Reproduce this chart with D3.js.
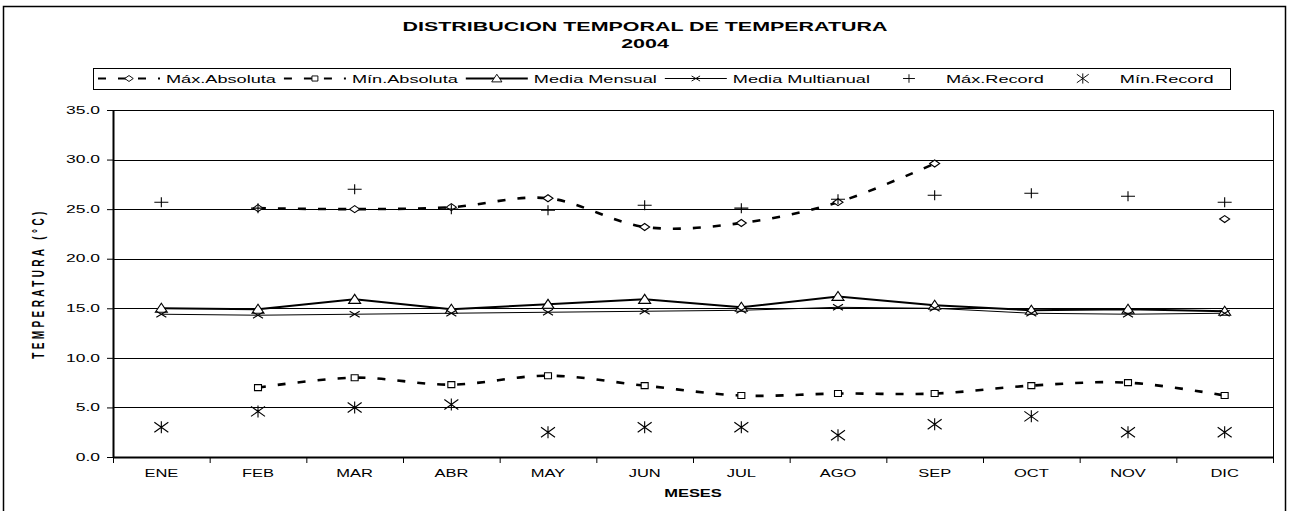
<!DOCTYPE html>
<html>
<head>
<meta charset="utf-8">
<title>Distribucion temporal de temperatura 2004</title>
<script src="https://cdn.jsdelivr.net/npm/d3@7"></script>
<style>
  body { margin: 0; background: #fff; }
  svg { display: block; font-family: Arial, "Liberation Sans", sans-serif; }
</style>
</head>
<body>
<svg id="chart" width="1290" height="511"></svg>
<script>
/********************************************************
 ********************* Data *****************************
 ********************************************************/
var months = ["ENE", "FEB", "MAR", "ABR", "MAY", "JUN", "JUL", "AGO", "SEP", "OCT", "NOV", "DIC"];

var max_absoluta     = [null, 25.1, 25.0, 25.2, 26.1, 23.2, 23.6, 25.7, 29.6, null, null, 24.0];
var min_absoluta     = [null, 7.0, 8.0, 7.3, 8.2, 7.2, 6.2, 6.4, 6.4, 7.2, 7.5, 6.2];
var media_mensual    = [15.0, 14.9, 15.9, 14.9, 15.4, 15.9, 15.1, 16.2, 15.3, 14.8, 14.9, 14.7];
var media_multianual = [14.4, 14.3, 14.4, 14.5, 14.6, 14.7, 14.8, 15.1, 15.0, 14.5, 14.4, 14.5];
var max_record       = [25.7, 25.1, 27.0, 25.0, 24.9, 25.4, 25.1, 26.0, 26.4, 26.6, 26.3, 25.7];
var min_record       = [3.0, 4.6, 5.0, 5.3, 2.5, 3.0, 3.0, 2.2, 3.3, 4.1, 2.5, 2.5];

var y_ticks = [0, 5, 10, 15, 20, 25, 30, 35];

var title_lines = ["DISTRIBUCION TEMPORAL DE TEMPERATURA", "2004"];
var x_title = "MESES";
var y_title = "TEMPERATURA (°C)";

// series table built from the arrays above
var series = [
  {name: "Máx.Absoluta",     values: max_absoluta,     line: "dash",  marker: "diamond"},
  {name: "Mín.Absoluta",     values: min_absoluta,     line: "dash",  marker: "square"},
  {name: "Media Mensual",    values: media_mensual,    line: "thick", marker: "triangle"},
  {name: "Media Multianual", values: media_multianual, line: "thin",  marker: "cross"},
  {name: "Máx.Record",       values: max_record,       line: null,    marker: "plus"},
  {name: "Mín.Record",       values: min_record,       line: null,    marker: "star"}
];

/********************************************************
 ********************* Helpers **************************
 ********************************************************/
var STRETCH = 1.65; // the original text is drawn wide

var marker_paths = {
  diamond:  "M-5,0L0,-3.5L5,0L0,3.5Z",
  square:   "M-3.5,-3L3.5,-3L3.5,3L-3.5,3Z",
  triangle: "M-6,4L0,-5L6,4Z",
  cross:    "M-5,-3L5,3M-5,3L5,-3",
  plus:     "M-7,0L7,0M0,-5L0,5",
  star:     "M-7,-5L7,5M-7,5L7,-5M0,-6L0,6"
};

function line_style(sel, kind){
  sel.attr("fill", "none").attr("stroke", "#000");
  if (kind == "dash") {
    sel.attr("stroke-width", 2.6).attr("stroke-dasharray", "8,12");
  } else if (kind == "thick") {
    sel.attr("stroke-width", 2);
  } else {
    sel.attr("stroke-width", 1);
  }
}

function draw_marker(parent, kind, x, y, k){
  var open = (kind == "diamond" || kind == "square" || kind == "triangle");
  parent.append("path")
    .attr("d", marker_paths[kind])
    .attr("transform", "translate(" + x + "," + y + ") scale(" + (k || 1) + ")")
    .attr("fill", open ? "#fff" : "none")
    .attr("stroke", "#000")
    .attr("stroke-width", 1.1);
}

function add_text(parent, x, y, txt, size, weight, anchor, sx){
  return parent.append("text")
    .attr("transform", "translate(" + x + "," + y + ") scale(" + sx + ",1)")
    .attr("text-anchor", anchor)
    .style("font-size", size + "px")
    .style("font-weight", weight)
    .attr("fill", "#000")
    .text(txt);
}

/********************************************************
 ********************* Chart ****************************
 ********************************************************/
var svg = d3.select("#chart");
var plot = {left: 113, right: 1273, top: 110, bottom: 457};

svg.append("rect").attr("width", 1290).attr("height", 511).attr("fill", "#fff");

// outer frame
svg.append("rect")
  .attr("x", 3.5).attr("y", 6.5)
  .attr("width", 1282).attr("height", 520)
  .attr("fill", "none").attr("stroke", "#000").attr("stroke-width", 1.5);

// title
title_lines.forEach(function(t, i){
  add_text(svg, 645, 31 + i * 17, t, 13, "bold", "middle", STRETCH);
});

var x = d3.scaleBand().domain(months).range([plot.left, plot.right]);
var x_ticks = d3.scaleLinear().domain([0, months.length]).range([plot.left, plot.right]);
var y = d3.scaleLinear().domain([0, 35]).range([plot.bottom, plot.top]);

function cx(i){ return x(months[i]) + x.bandwidth() / 2; }

// gridlines
svg.append("g")
  .selectAll("line")
  .data(y_ticks.slice(1))
  .enter().append("line")
    .attr("x1", plot.left).attr("x2", plot.right)
    .attr("y1", function(d){ return Math.round(y(d)) + 0.5; })
    .attr("y2", function(d){ return Math.round(y(d)) + 0.5; })
    .attr("stroke", "#000").attr("stroke-width", 1);

// right border
svg.append("line")
  .attr("x1", plot.right + 0.5).attr("x2", plot.right + 0.5)
  .attr("y1", y(35)).attr("y2", plot.bottom)
  .attr("stroke", "#000");

// y axis
var y_axis = svg.append("g")
  .attr("transform", "translate(" + plot.left + ",0)")
  .call(d3.axisLeft(y).tickValues(y_ticks).tickFormat(d3.format(".1f")).tickSize(6).tickSizeOuter(0));
y_axis.select(".domain").attr("stroke-width", 2);
y_axis.selectAll("text")
  .attr("x", -13 / 1.75)
  .attr("transform", "scale(1.75,1)")
  .style("font-size", "10px")
  .style("font-family", "Arial, 'Liberation Sans', sans-serif");

// x axis tick marks between categories
var x_axis_ticks = svg.append("g")
  .attr("transform", "translate(0," + plot.bottom + ")")
  .call(d3.axisBottom(x_ticks).ticks(months.length).tickFormat("").tickSize(6).tickSizeOuter(0));
x_axis_ticks.select(".domain").attr("stroke-width", 2);

// x axis labels
var x_axis = svg.append("g")
  .attr("transform", "translate(0," + plot.bottom + ")")
  .call(d3.axisBottom(x).tickSize(0));
x_axis.select(".domain").remove();
x_axis.selectAll("text")
  .attr("y", 13)
  .attr("transform", "scale(" + STRETCH + ",1)")
  .style("font-size", "10px")
  .style("font-family", "Arial, 'Liberation Sans', sans-serif");

// axis titles
add_text(svg, (plot.left + plot.right) / 2, 497, x_title, 10, "bold", "middle", STRETCH);

svg.append("text")
  .attr("transform", "translate(38," + (plot.top + plot.bottom) / 2 + ") rotate(-90) scale(1,1.6)")
  .attr("text-anchor", "middle")
  .attr("dy", "0.35em")
  .style("font-size", "10px")
  .style("font-weight", "bold")
  .style("letter-spacing", "3.4px")
  .text(y_title);

/********************************************************
 ********************* Series ***************************
 ********************************************************/
var marks = svg.append("g");

series.forEach(function(s){
  if (s.line) {
    var line = d3.line()
      .defined(function(d){ return d != null; })
      .x(function(d, i){ return cx(i); })
      .y(function(d){ return y(d); })
      .curve(s.line == "dash" ? d3.curveCardinal.tension(0) : d3.curveLinear);
    marks.append("path")
      .datum(s.values)
      .attr("d", line)
      .call(line_style, s.line);
  }
});

series.forEach(function(s){
  s.values.forEach(function(v, i){
    if (v != null) draw_marker(marks, s.marker, cx(i), y(v));
  });
});

/********************************************************
 ********************* Legend ***************************
 ********************************************************/
var legend = svg.append("g");
var legend_left = 93, legend_top = 68, legend_h = 21;
var ly = legend_top + legend_h / 2;
var legend_box = legend.append("rect");

var cursor = legend_left + 5;
series.forEach(function(s){
  var mx = cursor + 31;
  if (s.line) {
    legend.append("line")
      .attr("x1", cursor).attr("x2", cursor + 62)
      .attr("y1", ly).attr("y2", ly)
      .call(line_style, s.line)
      .attr("stroke-width", s.line == "thin" ? 1 : 2);
  }
  draw_marker(legend, s.marker, mx, ly, 0.85);
  var t = add_text(legend, cursor + 68, ly + 4, s.name, 11, "normal", "start", STRETCH);
  cursor = cursor + 68 + t.node().getComputedTextLength() * STRETCH + 8;
});

legend_box
  .attr("x", legend_left + 0.5).attr("y", legend_top + 0.5)
  .attr("width", Math.max(cursor + 6, 1230) - legend_left).attr("height", legend_h)
  .attr("fill", "#fff").attr("stroke", "#000").attr("stroke-width", 1);
</script>
</body>
</html>
